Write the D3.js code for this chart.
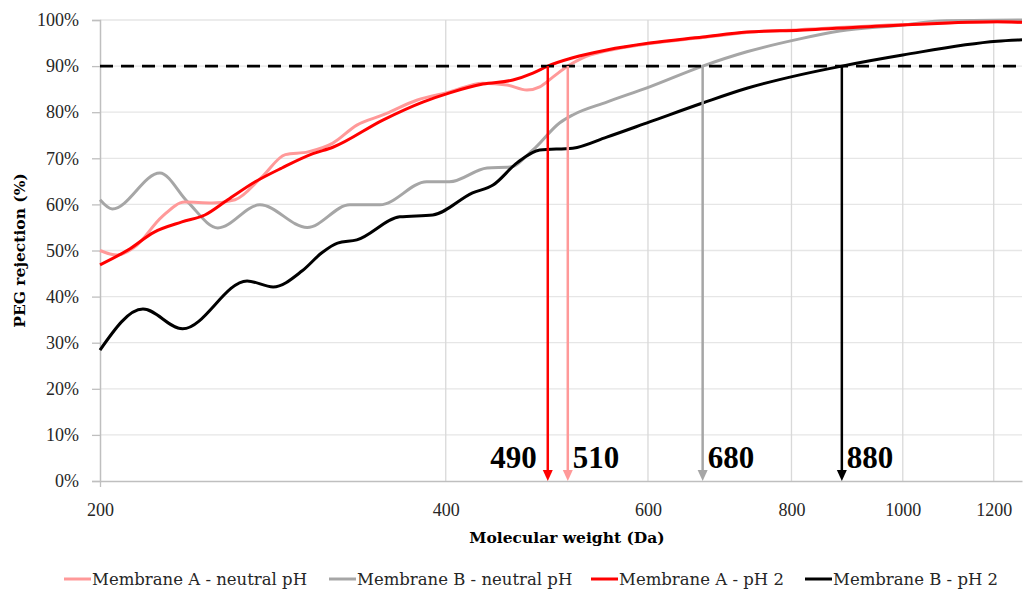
<!DOCTYPE html>
<html>
<head>
<meta charset="utf-8">
<script src="https://cdn.jsdelivr.net/npm/d3@7"></script>
<style>
  body { margin: 0; background: #fff; }
  svg { display: block; }
</style>
</head>
<body>
<div id="chart"></div>
<script>
// values: [molecular weight (Da), PEG rejection (%)]
var seriesNames = ["Membrane A - neutral pH", "Membrane B - neutral pH", "Membrane A - pH 2", "Membrane B - pH 2"];
var seriesColors = ["#ff9999", "#a6a6a6", "#ff0000", "#000000"];

var membraneANeutral = [
    [200, 50], [207, 49], [214.5, 50.8], [226.4, 57.3], [237, 60.5], [250.3, 60.3], [262.2, 61],
    [276.8, 66], [290, 70.8], [303.5, 71.4], [319, 73.3], [334.7, 77.2], [352.6, 79.4], [377.4, 82.6],
    [403.2, 84.4], [430.9, 86.3], [452.2, 85.9], [470.7, 84.8], [483, 85.5], [495.8, 87.6], [510.9, 90],
    [526.5, 91.8], [552.4, 93.3], [602, 94.9], [669.5, 96.2], [731.5, 97.3], [813.4, 97.9],
    [1000, 99], [1208, 99.6], [1270, 99.5]
];
var membraneBNeutral = [
    [200, 61], [205, 59], [225.5, 66.8], [238.5, 60.5], [253.3, 54.9], [275.6, 59.9], [303, 55],
    [330, 59.9], [350.5, 59.9], [385, 64.9], [403, 64.9], [434.5, 67.9], [455, 68.1], [476.4, 71.8],
    [502.8, 77.7], [516, 79.4], [552.4, 82.2], [602, 85.5], [669.5, 90], [731.5, 93.1], [813.4, 95.9],
    [881, 97.6], [1000, 98.9], [1077, 99.8], [1270, 100]
];
var membraneAPh2 = [
    [200, 46.9], [211.5, 50.1], [223, 54], [235.7, 56.2], [246.8, 57.7], [258.4, 61], [273, 64.9],
    [288, 67.9], [306.5, 71], [319, 72.4], [352.6, 78.3], [382, 82.2], [403.2, 84.2],
    [430.9, 86.1], [457.7, 87], [476.4, 88.5], [490.8, 90], [516, 91.8], [552.4, 93.5], [602, 95],
    [669.5, 96.3], [731.5, 97.4], [813.4, 97.8], [1000, 98.9], [1208, 99.6], [1270, 99.5]
];
var membraneBPh2 = [
    [200, 28.4], [218, 37.3], [236, 33], [268.6, 43.4], [283, 42.1], [300, 45.6], [312, 49.5],
    [322, 51.6], [334.7, 52.3], [364.8, 57.3], [389.7, 57.7], [422.1, 62.5], [439.8, 64.2],
    [461.4, 69], [483, 71.8], [516, 72.2], [552.4, 74.6], [602, 77.9], [669.5, 82], [731.5, 85.2],
    [813.4, 88.1], [885, 90], [1000, 92.4], [1208, 95.4], [1270, 95.7]
];
var allSeries = [membraneANeutral, membraneBNeutral, membraneAPh2, membraneBPh2];

// 90 % cut-off arrows: where each curve crosses the dashed line, and the label shown
var cutoffMW = [490.8, 510.9, 669.5, 885];
var cutoffLabels = ["490", "510", "680", "880"];
var cutoffColors = ["#ff0000", "#ff9999", "#a6a6a6", "#000000"];
var cutoffLevel = 90;

var xTicks = [200, 400, 600, 800, 1000, 1200];
var yTicks = [0, 10, 20, 30, 40, 50, 60, 70, 80, 90, 100];

var W = 1024, H = 591;
var plotL = 100, plotR = 1022, plotT = 20, plotB = 481;

var svg = d3.select("#chart").append("svg")
    .attr("width", W)
    .attr("height", H)
    .attr("viewBox", "0 0 " + W + " " + H);

var x = d3.scaleLog().domain([200, 1270]).range([plotL, plotR]);
var y = d3.scaleLinear().domain([0, 100]).range([plotB, plotT]);

var numFont = "'Liberation Serif', 'Times New Roman', serif";
var textFont = "'DejaVu Serif', serif";

// grid
svg.append("g").selectAll("line").data(yTicks.filter(function (d) { return d > 0; }))
    .enter().append("line")
    .attr("x1", plotL).attr("x2", plotR)
    .attr("y1", function (d) { return y(d); }).attr("y2", function (d) { return y(d); })
    .attr("stroke", "#e6e6e6").attr("stroke-width", 1.3);

svg.append("g").selectAll("line").data(xTicks.filter(function (d) { return d > 200; }))
    .enter().append("line")
    .attr("x1", function (d) { return x(d); }).attr("x2", function (d) { return x(d); })
    .attr("y1", plotT).attr("y2", plotB)
    .attr("stroke", "#d9d9d9").attr("stroke-width", 1.3);

// axes
var yAxis = svg.append("g")
    .attr("transform", "translate(" + plotL + ",0)")
    .call(d3.axisLeft(y).tickValues(yTicks).tickFormat(function (d) { return d + "%"; }).tickSize(8).tickPadding(13));
var xAxis = svg.append("g")
    .attr("transform", "translate(0," + plotB + ")")
    .call(d3.axisBottom(x).tickValues(xTicks).tickFormat(d3.format("d")).tickSize(0).tickPadding(22));

[yAxis, xAxis].forEach(function (a) {
    a.select(".domain").attr("stroke", "#bfbfbf").attr("stroke-width", 1.5);
    a.selectAll(".tick line").attr("stroke", "#bfbfbf").attr("stroke-width", 1.3);
    a.selectAll(".tick text")
        .attr("font-family", numFont)
        .attr("font-size", 18)
        .attr("fill", "#262626");
});
xAxis.selectAll(".tick").filter(function (d) { return d === 200; })
    .append("line").attr("y2", 6).attr("stroke", "#bfbfbf").attr("stroke-width", 1.3);

// axis titles
svg.append("text")
    .attr("x", 567).attr("y", 543)
    .attr("text-anchor", "middle")
    .attr("font-family", textFont).attr("font-weight", "bold").attr("font-size", 15.5)
    .attr("fill", "#000")
    .text("Molecular weight (Da)");

svg.append("text")
    .attr("transform", "translate(25," + ((plotT + plotB) / 2) + ") rotate(-90)")
    .attr("text-anchor", "middle")
    .attr("font-family", textFont).attr("font-weight", "bold").attr("font-size", 15.5)
    .attr("fill", "#000")
    .text("PEG rejection (%)");

// curves
var line = d3.line()
    .x(function (d) { return x(d[0]); })
    .y(function (d) { return y(d[1]); })
    .curve(d3.curveMonotoneX);

var drawOrder = [1, 0, 3, 2];
drawOrder.forEach(function (i) {
    svg.append("path")
        .datum(allSeries[i])
        .attr("d", line)
        .attr("fill", "none")
        .attr("stroke", seriesColors[i])
        .attr("stroke-width", 3)
        .attr("stroke-linejoin", "round");
});

// 90 % dashed line
svg.append("line")
    .attr("x1", plotL).attr("x2", plotR)
    .attr("y1", y(cutoffLevel)).attr("y2", y(cutoffLevel))
    .attr("stroke", "#000").attr("stroke-width", 2.6)
    .attr("stroke-dasharray", "13,8");

// cut-off arrows
var arrows = svg.append("g").selectAll("g").data(cutoffMW).enter().append("g");
arrows.append("line")
    .attr("x1", function (d) { return x(d); }).attr("x2", function (d) { return x(d); })
    .attr("y1", y(cutoffLevel)).attr("y2", plotB - 8)
    .attr("stroke", function (d, i) { return cutoffColors[i]; })
    .attr("stroke-width", 2.5);
arrows.append("path")
    .attr("d", function (d) {
        var cx = x(d);
        return "M" + (cx - 5) + "," + (plotB - 11) + "L" + (cx + 5) + "," + (plotB - 11) + "L" + cx + "," + plotB + "Z";
    })
    .attr("fill", function (d, i) { return cutoffColors[i]; });
arrows.append("text")
    .attr("x", function (d, i) { return i === 0 ? x(d) - 11 : x(d) + 5; })
    .attr("y", 468)
    .attr("text-anchor", function (d, i) { return i === 0 ? "end" : "start"; })
    .attr("font-family", numFont).attr("font-weight", "bold").attr("font-size", 31)
    .attr("fill", "#000")
    .text(function (d, i) { return cutoffLabels[i]; });

// legend
var legendX = [64, 329, 591, 805];
var legend = svg.append("g").selectAll("g").data(seriesNames).enter().append("g")
    .attr("transform", function (d, i) { return "translate(" + legendX[i] + ",579)"; });
legend.append("line")
    .attr("x1", 0).attr("x2", 27)
    .attr("stroke", function (d, i) { return seriesColors[i]; })
    .attr("stroke-width", 3);
legend.append("text")
    .attr("x", 28).attr("y", 6)
    .attr("font-family", textFont).attr("font-size", 16.5)
    .attr("fill", "#262626")
    .text(function (d) { return d; });
</script>
</body>
</html>
